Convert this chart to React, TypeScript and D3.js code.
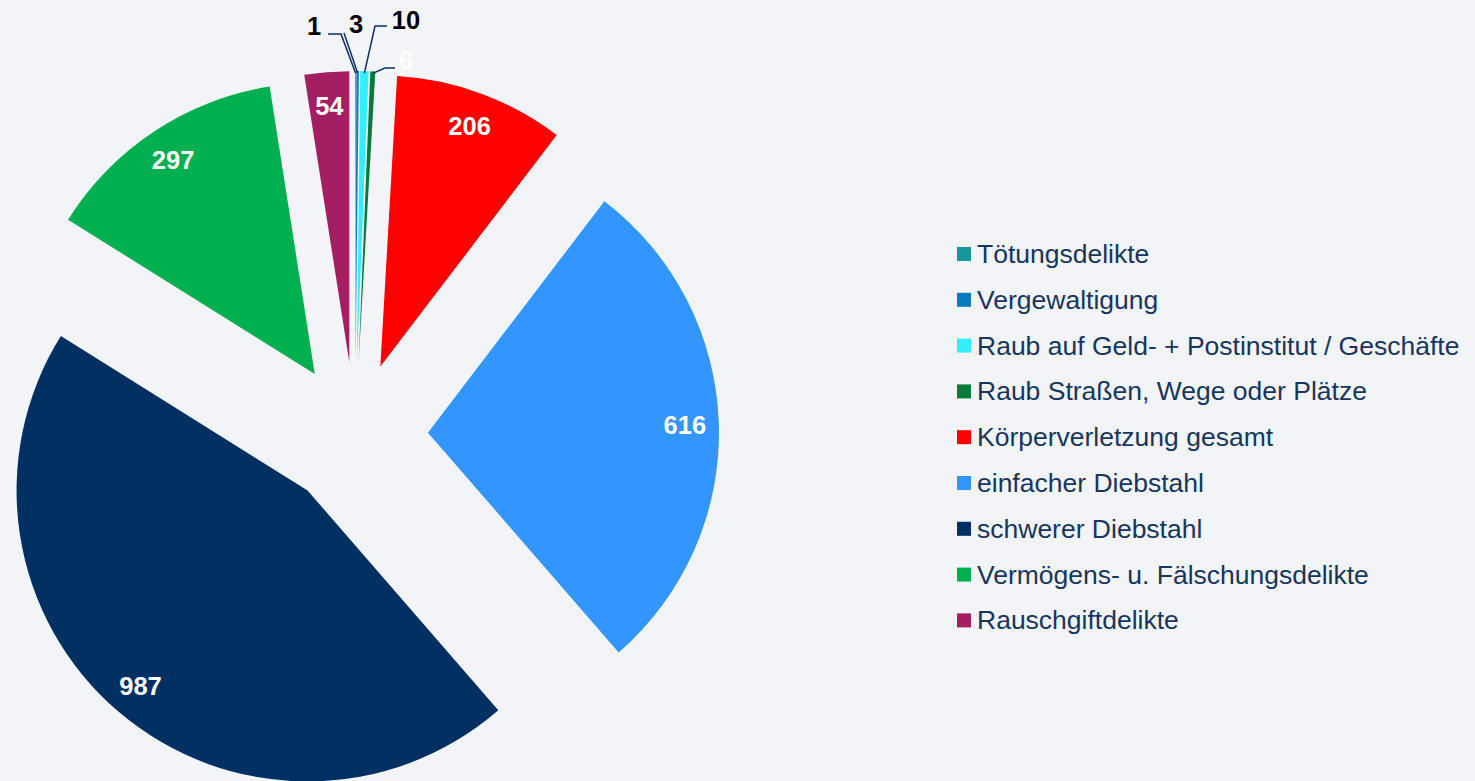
import React from "react";
import * as d3 from "d3";

const categories = [
  "Tötungsdelikte",
  "Vergewaltigung",
  "Raub auf Geld- + Postinstitut / Geschäfte",
  "Raub Straßen, Wege oder Plätze",
  "Körperverletzung gesamt",
  "einfacher Diebstahl",
  "schwerer Diebstahl",
  "Vermögens- u. Fälschungsdelikte",
  "Rauschgiftdelikte",
];
const values = [1, 3, 10, 6, 206, 616, 987, 297, 54];
const colors = ["#17979a", "#0b79bd", "#33eefc", "#087a3c", "#ff0000", "#3396ff", "#002f61", "#00af50", "#a31f62"];

const W = 1475, H = 781;
const cx = 355, cy = 435, R = 291, explode = 73;
const textColor = "#17365d";
const font = "'Liberation Sans', Arial, sans-serif";

const smallLabels: Record<number, { lx: number; ly: number; pts: [number, number][]; fill: string }> = {
  0: { lx: 314, ly: 26, pts: [[328, 34], [341, 34]], fill: "#000" },
  1: { lx: 356, ly: 24, pts: [[344, 33]], fill: "#000" },
  2: { lx: 406, ly: 20, pts: [[387, 26], [375, 26]], fill: "#000" },
  3: { lx: 406, ly: 60, pts: [[395, 68], [385, 68]], fill: "#fff" },
};

export default function App() {
  const pie = d3.pie<number>().sort(null).value((d) => d);
  const arcs = pie(values);
  const arc = d3.arc<d3.PieArcDatum<number>>().innerRadius(0).outerRadius(R);

  return (
    <svg width={W} height={H} style={{ display: "block", position: "absolute", left: 0, top: 0 }}>
      <rect width={W} height={H} fill="#f2f4f8" />
      {arcs.map((a, i) => {
        const mid = (a.startAngle + a.endAngle) / 2;
        const ox = cx + explode * Math.sin(mid);
        const oy = cy - explode * Math.cos(mid);
        return (
          <g key={i} transform={`translate(${ox},${oy})`}>
            <path d={arc(a) || ""} fill={colors[i]} />
          </g>
        );
      })}
      {arcs.map((a, i) => {
        const mid = (a.startAngle + a.endAngle) / 2;
        const ox = cx + explode * Math.sin(mid);
        const oy = cy - explode * Math.cos(mid);
        const sl = smallLabels[i];
        if (sl) {
          const tx = ox + (R - 2) * Math.sin(mid);
          const ty = oy - (R - 2) * Math.cos(mid);
          const pts = [...sl.pts, [tx, ty]];
          return (
            <g key={"l" + i}>
              <polyline points={pts.map((p) => p.join(",")).join(" ")} fill="none" stroke="#0f2f5f" strokeWidth={1.5} />
              <text x={sl.lx} y={sl.ly} textAnchor="middle" dominantBaseline="central" fontFamily={font} fontWeight="bold" fontSize={25.5} fill={sl.fill}>
                {values[i]}
              </text>
            </g>
          );
        }
        const lr = 257;
        const lx = ox + lr * Math.sin(mid);
        const ly = oy - lr * Math.cos(mid);
        return (
          <text key={"l" + i} x={lx} y={ly} textAnchor="middle" dominantBaseline="central" fontFamily={font} fontWeight="bold" fontSize={25.5} fill="#fff">
            {values[i]}
          </text>
        );
      })}
      {categories.map((c, i) => {
        const y = 254 + i * 45.8;
        return (
          <g key={"lg" + i}>
            <rect x={957} y={y - 7} width={14} height={14} fill={colors[i]} />
            <text x={977} y={y} dominantBaseline="central" fontFamily={font} fontSize={26.5} fill={textColor}>
              {c}
            </text>
          </g>
        );
      })}
    </svg>
  );
}
